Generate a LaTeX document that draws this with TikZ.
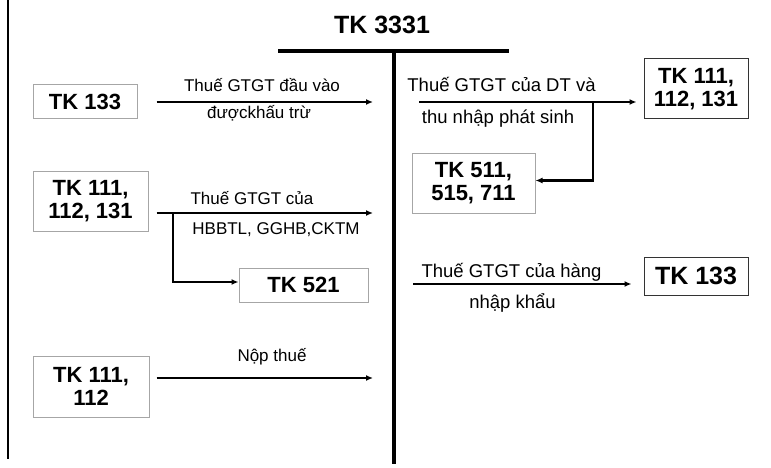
\documentclass[tikz,border=0pt]{standalone}
\usepackage{fontspec}
\setmainfont{Liberation Sans}
\usetikzlibrary{arrows.meta}
\begin{document}
\begin{tikzpicture}[x=1pt,y=-1pt,
  acct/.style={draw=gray!70, line width=1pt, fill=white, font=\bfseries\fontsize{22}{23}\selectfont, align=center, inner sep=0pt},
  acctd/.style={acct, draw=black!80},
  lbl/.style={font=\fontsize{17}{19}\selectfont, inner sep=0pt, anchor=base},
  lblr/.style={lbl, font=\fontsize{18.5}{20}\selectfont},
  arr/.style={line width=1.5pt, -{Latex[length=7pt,width=6pt]}},
  branch/.style={line width=2.5pt, -{Latex[length=7pt,width=6pt]}},
  tline/.style={line width=3.5pt}]
\useasboundingbox (0,0) rectangle (771,468);

% left border and T account
\coordinate (lbt) at (8,0);
\coordinate (lbb) at (8,459);
\draw[line width=2.5pt] (lbt) -- (lbb);
\node[font=\bfseries\fontsize{25}{28}\selectfont, anchor=base] (title) at (382,34) {TK 3331};
\coordinate (tl) at (278,51);
\coordinate (tr) at (509,51);
\coordinate (tt) at (394,50);
\coordinate (tb) at (394,464);
\draw[tline] (tl) -- (tr);
\draw[tline] (tt) -- (tb);

% boxes
\node[acct, minimum width=104pt, minimum height=34pt] (k133l) at (85,102) {TK 133};
\node[acct, minimum width=115pt, minimum height=60pt] (k111l) at (90.5,201) {TK 111,\\112, 131};
\node[acct, minimum width=129pt, minimum height=34pt] (k521) at (303.5,285) {TK 521};
\node[acct, minimum width=116pt, minimum height=61pt] (k111b) at (91,386.5) {TK 111,\\112};
\node[acct, minimum width=123pt, minimum height=59pt] (k511) at (473.5,183.5) {TK 511,\\515, 711};
\node[acctd, minimum width=104pt, minimum height=60pt] (k111r) at (696,89) {TK 111,\\112, 131};
\node[acctd, minimum width=104pt, minimum height=38pt, font=\bfseries\fontsize{25}{28}\selectfont] (k133r) at (696,276) {TK 133};

% end coordinates on the left side of the T
\coordinate (e1) at (373,102);
\coordinate (e2) at (373,213);
\coordinate (e3) at (373,378);
\coordinate (s4) at (419,102);
\coordinate (s5) at (413,284);
\coordinate (b1) at (173,213);
\coordinate (b2) at (593,102);

% arrows
\draw[arr] ([xshift=19pt]k133l.east) -- (e1);
\draw[arr] ([xshift=8pt]k111l.east |- e2) -- (e2);
\draw[branch] (b1) |- ([yshift=3pt]k521.west);
\draw[arr] ([xshift=7pt]k111b.east |- e3) -- (e3);
\draw[arr] (s4) -- ([xshift=-7pt]k111r.west |- s4);
\draw[branch] (b2) |- ([yshift=3pt]k511.east);
\draw[arr] (s5) -- ([xshift=-12pt]k133r.west |- s5);

% labels
\node[lbl] (l1a) at (262,92) {Thuế GTGT đầu vào};
\node[lbl] (l1b) at (259,119) {đượckhấu trừ};
\node[lbl] (l2a) at (252,204) {Thuế GTGT của};
\node[lbl] (l2b) at (276,234) {HBBTL, GGHB,CKTM};
\node[lbl] (l3) at (272,361) {Nộp thuế};
\node[lblr] (l4a) at (501.5,92) {Thuế GTGT của DT và};
\node[lblr] (l4b) at (498,124) {thu nhập phát sinh};
\node[lblr] (l5a) at (511.5,277) {Thuế GTGT của hàng};
\node[lblr] (l5b) at (512.5,308) {nhập khẩu};
\end{tikzpicture}
\end{document}
